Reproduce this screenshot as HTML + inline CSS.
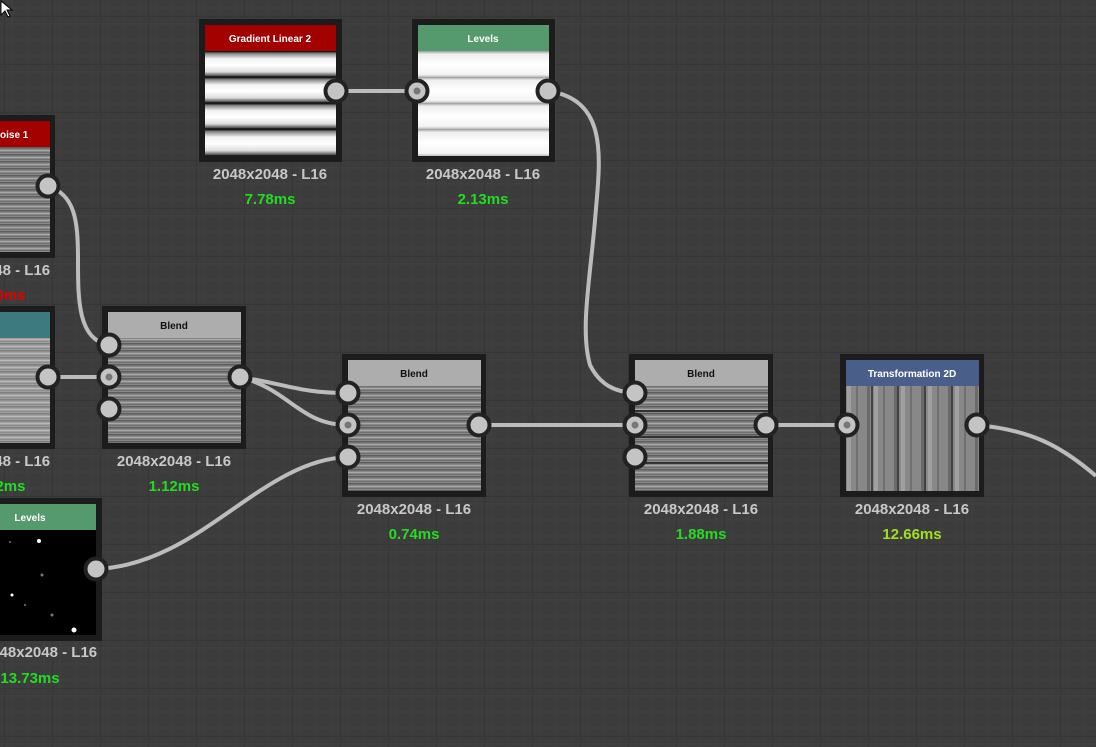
<!DOCTYPE html>
<html><head><meta charset="utf-8"><style>
html,body{margin:0;padding:0;width:1096px;height:747px;overflow:hidden;background:#3b3b3b}
svg{display:block}
text{font-family:"Liberation Sans",sans-serif}
</style></head><body>
<svg width="1096" height="747" viewBox="0 0 1096 747" xmlns="http://www.w3.org/2000/svg">
<defs>
<pattern id="minor" width="16" height="16" patternUnits="userSpaceOnUse" x="4" y="0">
<rect width="16" height="16" fill="#3c3c3c"/>
<path d="M8 0V16M0 8H16" stroke="#424242" stroke-width="1"/>
</pattern>
<pattern id="major" width="48" height="48" patternUnits="userSpaceOnUse" x="4" y="16">
<path d="M0 0V48M0 0H48" stroke="#363636" stroke-width="2" fill="none"/>
</pattern>
<linearGradient id="gl" x1="0" y1="0" x2="0" y2="1">
<stop offset="0" stop-color="#000"/><stop offset="0.1" stop-color="#888"/><stop offset="0.3" stop-color="#f4f4f4"/><stop offset="0.55" stop-color="#fff"/><stop offset="0.8" stop-color="#ddd"/><stop offset="0.95" stop-color="#555"/><stop offset="1" stop-color="#000"/>
</linearGradient>
<linearGradient id="lv" x1="0" y1="0" x2="0" y2="1">
<stop offset="0" stop-color="#999"/><stop offset="0.12" stop-color="#eee"/><stop offset="0.5" stop-color="#fff"/><stop offset="0.9" stop-color="#f4f4f4"/><stop offset="1" stop-color="#bbb"/>
</linearGradient>
<pattern id="wood" width="400" height="7" patternUnits="userSpaceOnUse">
<rect width="400" height="7" fill="#878787"/>
<rect y="0" width="400" height="1.5" fill="#5e5e5e"/>
<rect y="3" width="400" height="1" fill="#a8a8a8"/>
<rect y="5" width="400" height="1" fill="#707070"/>
</pattern>
<pattern id="woodv" width="27" height="137" patternUnits="userSpaceOnUse">
<rect width="27" height="137" fill="#888"/>
<rect x="3" width="3" height="137" fill="#6a6a6a"/>
<rect x="10" width="4" height="137" fill="#a0a0a0"/>
<rect x="19" width="2" height="137" fill="#707070"/>
</pattern>
<g id="port"><circle r="10.5" fill="#c4c4c4" stroke="#222" stroke-width="4"/></g>
<g id="portin"><circle r="10.5" fill="#c4c4c4" stroke="#222" stroke-width="4"/><circle r="3.5" fill="#777"/></g>
</defs>
<rect width="1096" height="747" fill="url(#minor)"/>
<rect width="1096" height="747" fill="url(#major)"/>

<g stroke="#bcbcbc" stroke-width="4" fill="none">
<path d="M336 91H417"/>
<path d="M548 91C610 100 600 160 595 220 C590 280 580 330 590 365 C600 385 615 392 635 393"/>
<path d="M48 186C75 195 78 220 78 260 C78 300 78 340 109 345"/>
<path d="M48 377H109"/>
<path d="M240 377C290 385 300 393 348 393"/>
<path d="M240 377C290 390 300 425 348 425"/>
<path d="M96 569C200 565 260 460 348 457"/>
<path d="M479 425H635"/>
<path d="M766 425H847"/>
<path d="M977 425C1030 430 1060 445 1096 476"/>
</g>

<rect x="199" y="19" width="143" height="143" fill="#1c1c1c"/>
<rect x="205" y="25" width="131" height="26" fill="#a30000"/>
<text x="270" y="42" fill="#fff" font-size="10" font-weight="bold" text-anchor="middle">Gradient Linear 2</text>
<rect x="205" y="51" width="131" height="26" fill="url(#gl)"/>
<rect x="205" y="77" width="131" height="26" fill="url(#gl)"/>
<rect x="205" y="103" width="131" height="26" fill="url(#gl)"/>
<rect x="205" y="129" width="131" height="27" fill="url(#gl)"/>

<rect x="412" y="19" width="143" height="143" fill="#1c1c1c"/>
<rect x="418" y="25" width="131" height="26" fill="#559a6c"/>
<text x="483" y="42" fill="#fff" font-size="10" font-weight="bold" text-anchor="middle">Levels</text>
<rect x="418" y="51" width="131" height="26" fill="url(#lv)"/>
<rect x="418" y="77" width="131" height="26" fill="url(#lv)"/>
<rect x="418" y="103" width="131" height="26" fill="url(#lv)"/>
<rect x="418" y="129" width="131" height="27" fill="url(#lv)"/>

<rect x="-10" y="115" width="65" height="143" fill="#1c1c1c"/>
<rect x="-10" y="121" width="60" height="26" fill="#a30000"/>
<text x="0" y="138" fill="#fff" font-size="10" font-weight="bold">oise 1</text>
<rect x="-10" y="147" width="60" height="105" fill="url(#wood)"/>

<rect x="-10" y="306" width="65" height="143" fill="#1c1c1c"/>
<rect x="-10" y="312" width="60" height="26" fill="#3c7a80"/>
<rect x="-10" y="338" width="60" height="105" fill="url(#wood)"/>
<rect x="-10" y="338" width="60" height="105" fill="#fff" opacity="0.2"/>

<rect x="102" y="306" width="144" height="143" fill="#1c1c1c"/>
<rect x="108" y="312" width="133" height="26" fill="#adadad"/>
<text x="174" y="329" fill="#111" font-size="10" font-weight="bold" text-anchor="middle">Blend</text>
<rect x="108" y="338" width="133" height="105" fill="url(#wood)"/>

<rect x="342" y="354" width="144" height="143" fill="#1c1c1c"/>
<rect x="348" y="360" width="133" height="26" fill="#adadad"/>
<text x="414" y="377" fill="#111" font-size="10" font-weight="bold" text-anchor="middle">Blend</text>
<rect x="348" y="386" width="133" height="105" fill="url(#wood)"/>

<rect x="629" y="354" width="144" height="143" fill="#1c1c1c"/>
<rect x="635" y="360" width="133" height="26" fill="#adadad"/>
<text x="701" y="377" fill="#111" font-size="10" font-weight="bold" text-anchor="middle">Blend</text>
<rect x="635" y="386" width="133" height="105" fill="url(#wood)"/>
<path d="M635 411H768M635 437H768M635 463H768" stroke="#333" stroke-width="2"/>

<rect x="840" y="354" width="144" height="143" fill="#1c1c1c"/>
<rect x="846" y="360" width="133" height="26" fill="#4a5e8a"/>
<text x="912" y="377" fill="#fff" font-size="10" font-weight="bold" text-anchor="middle">Transformation 2D</text>
<rect x="846" y="386" width="133" height="105" fill="url(#woodv)"/>
<path d="M872 386V491M898 386V491M925 386V491M952 386V491" stroke="#2a2a2a" stroke-width="1.5"/>

<rect x="-10" y="498" width="112" height="143" fill="#1c1c1c"/>
<rect x="-10" y="504" width="106" height="26" fill="#559a6c"/>
<text x="30" y="521" fill="#fff" font-size="10" font-weight="bold" text-anchor="middle">Levels</text>
<rect x="-10" y="530" width="106" height="105" fill="#000"/>
<g fill="#fff"><circle cx="39" cy="541" r="2"/><circle cx="12" cy="595" r="1.5"/><circle cx="74" cy="630" r="2.5"/></g>
<g fill="#777"><circle cx="42" cy="575" r="1.5"/><circle cx="52" cy="615" r="1.5"/><circle cx="10" cy="542" r="1"/><circle cx="25" cy="605" r="1"/></g>

<use href="#port" x="336" y="91"/>
<use href="#portin" x="417" y="91"/>
<use href="#port" x="548" y="91"/>
<use href="#port" x="48" y="186"/>
<use href="#port" x="48" y="377"/>
<use href="#port" x="109" y="345"/><use href="#portin" x="109" y="377"/><use href="#port" x="109" y="409"/>
<use href="#port" x="240" y="377"/>
<use href="#port" x="348" y="393"/><use href="#portin" x="348" y="425"/><use href="#port" x="348" y="457"/>
<use href="#port" x="479" y="425"/>
<use href="#port" x="635" y="393"/><use href="#portin" x="635" y="425"/><use href="#port" x="635" y="457"/>
<use href="#port" x="766" y="425"/>
<use href="#portin" x="847" y="425"/>
<use href="#port" x="977" y="425"/>
<use href="#port" x="96" y="569"/>

<g font-size="15" font-weight="bold" fill="#c8c8c8" text-anchor="middle">
<text x="270" y="179">2048x2048 - L16</text>
<text x="483" y="179">2048x2048 - L16</text>
<text x="-7" y="275">2048x2048 - L16</text>
<text x="-7" y="466">2048x2048 - L16</text>
<text x="174" y="466">2048x2048 - L16</text>
<text x="414" y="514">2048x2048 - L16</text>
<text x="701" y="514">2048x2048 - L16</text>
<text x="912" y="514">2048x2048 - L16</text>
<text x="40" y="657">2048x2048 - L16</text>
</g>
<g font-size="15" font-weight="bold" fill="#22dd22" text-anchor="middle">
<text x="270" y="204">7.78ms</text>
<text x="483" y="204">2.13ms</text>
<text x="0" y="491">1.12ms</text>
<text x="174" y="491">1.12ms</text>
<text x="414" y="539">0.74ms</text>
<text x="701" y="539">1.88ms</text>
<text x="912" y="539" fill="#a0e020">12.66ms</text>
<text x="30" y="683">13.73ms</text>
<text x="0" y="300" fill="#e00000">0.00ms</text>
</g>
<path d="M1 1V15L5 11L8 17L10 16L7 10L12 10Z" fill="#fff" stroke="#000" stroke-width="1"/>
</svg>
</body></html>
